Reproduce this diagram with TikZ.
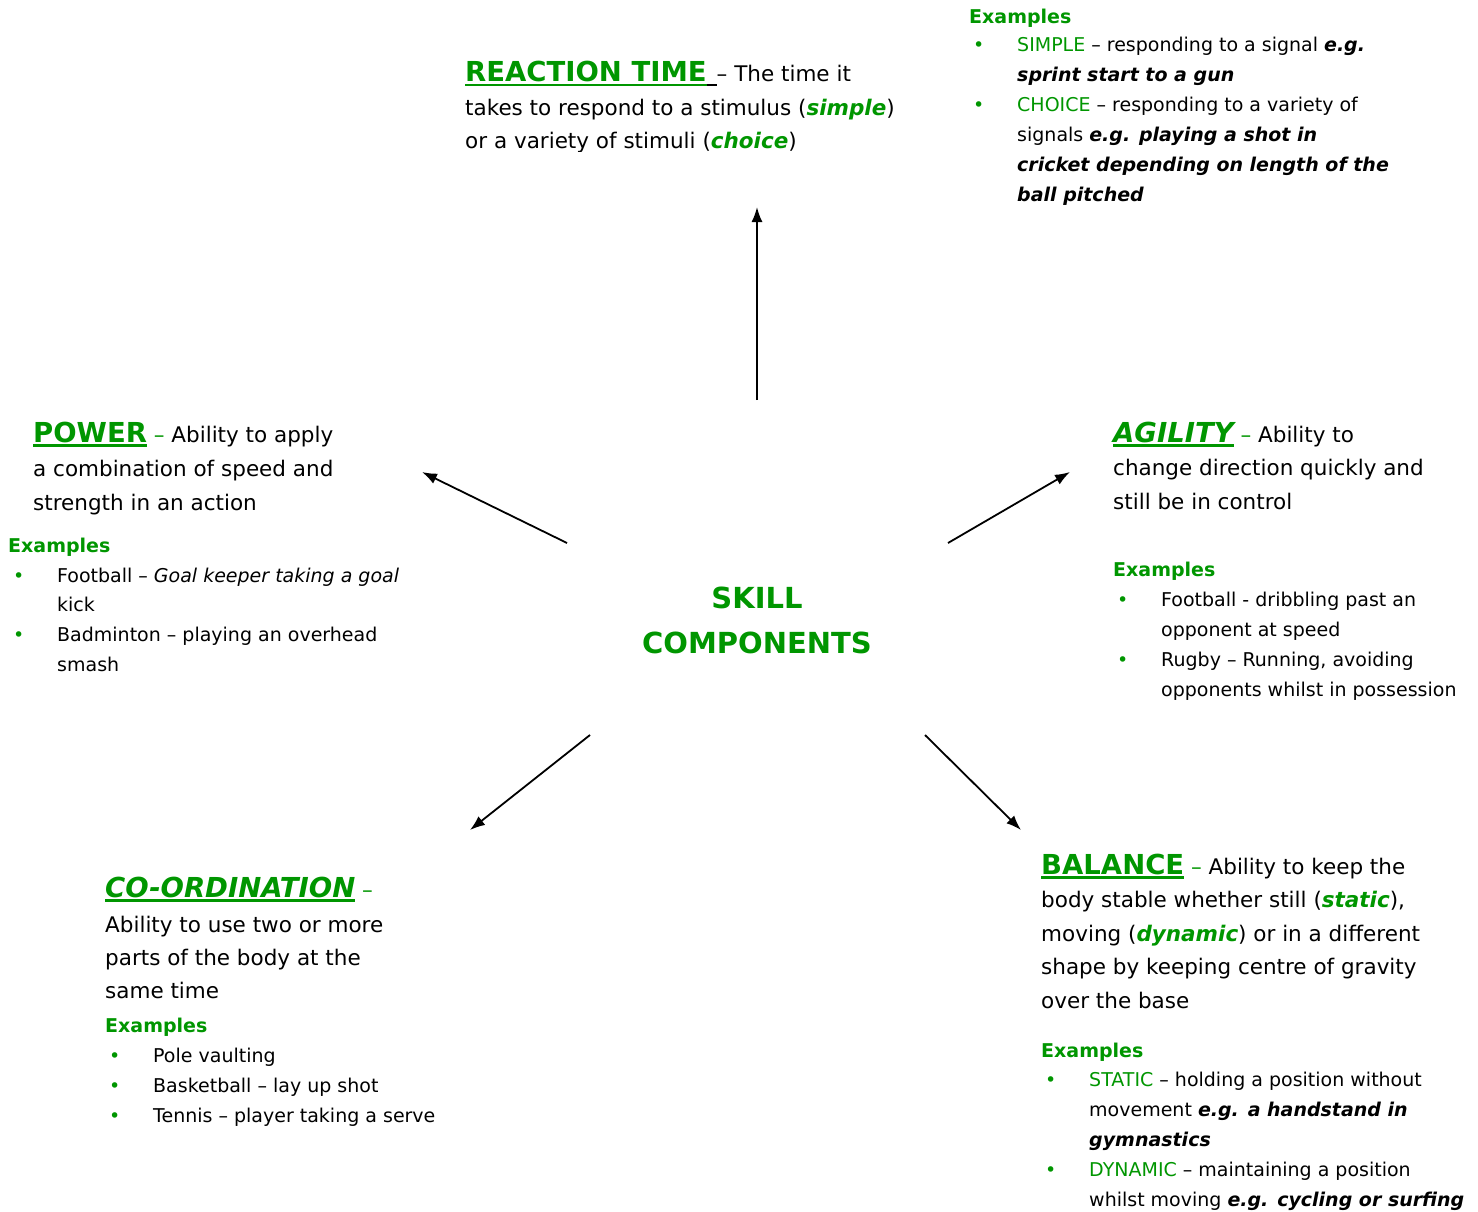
\documentclass[tikz,border=0pt]{standalone}
\usepackage{fontspec}
\setmainfont{DejaVu Sans}
\usetikzlibrary{arrows.meta}
\definecolor{sg}{RGB}{0,150,0}
\newcommand\bodyf{\fontsize{21.5}{25}\selectfont}
\newcommand\exf{\fontsize{19}{23}\selectfont}
\newcommand\hdf{\fontsize{27.5}{31}\selectfont\bfseries}
\newcommand\myul[1]{\setbox0\hbox{#1}\rlap{\rule[-4.5pt]{\wd0}{2.6pt}}\box0}
\newcommand\hd[1]{\textcolor{sg}{\hdf\myul{#1}}}
\newcommand\gi[1]{\textcolor{sg}{\bfseries\itshape #1}}
\newcommand\bi[1]{{\bfseries\itshape #1}}
\newcommand\gr[1]{\textcolor{sg}{#1}}
\newcommand\bul{\llap{\makebox[44pt][l]{\textcolor{sg}{\textbullet}}}}
\newcommand\block[6]{\foreach \t [count=\i] in {#6}{\node[#1] (#2\i) at (#3,{#4+(\i-1)*#5}) {\t};}}
\tikzset{
  ln/.style={anchor=base west, inner sep=0pt, font=\bodyf},
  ex/.style={anchor=base west, inner sep=0pt, font=\exf},
  exhd/.style={anchor=base west, inner sep=0pt, font=\exf\bfseries, text=sg},
  ctr/.style={anchor=base, inner sep=0pt, font=\fontsize{29}{33}\selectfont\bfseries, text=sg},
  arr/.style={line width=1.8pt, -{Latex[length=15pt,width=11pt]}}
}
\begin{document}
\begin{tikzpicture}[x=1pt,y=-1pt]
\useasboundingbox[fill=white] (0,0) rectangle (1478,1212);

% centre
\node[ctr] (sk1) at (757,608) {SKILL};
\node[ctr] (sk2) at (757,653) {COMPONENTS};

% reaction time
\begin{scope}
\clip (0,0) rectangle (1478,152);
\block{ln}{rt}{465}{82}{33.5}{
 {\hd{REACTION TIME}\myul{\hspace{10pt}} – The time it},
 {takes to respond to a stimulus (\gi{simple})},
 {or a variety of stimuli (\gi{choice})}}
\end{scope}

% reaction time examples
\node[exhd] (rtex) at (969,24) {Examples};
\block{ex}{rte}{1017}{52}{29.9}{
 {\bul\gr{SIMPLE} – responding to a signal \bi{e.g.}},
 {\bi{sprint start to a gun}},
 {\bul\gr{CHOICE} – responding to a variety of},
 {signals \bi{e.g. playing a shot in}},
 {\bi{cricket depending on length of the}},
 {\bi{ball pitched}}}

% power
\block{ln}{pw}{33}{442}{34}{
 {\hd{POWER} \gr{–} Ability to apply},
 {a combination of speed and},
 {strength in an action}}
\node[exhd] (pwex) at (8,552) {Examples};
\block{ex}{pwe}{57}{582}{29.7}{
 {\bul Football – \textit{Goal keeper taking a goal}},
 {kick},
 {\bul Badminton – playing an overhead},
 {smash}}

% agility
\block{ln}{ag}{1113}{442}{33.5}{
 {\hd{\itshape AGILITY} \gr{–} Ability to},
 {change direction quickly and},
 {still be in control}}
\node[exhd] (agex) at (1113,576) {Examples};
\block{ex}{age}{1161}{606}{30}{
 {\bul Football - dribbling past an},
 {opponent at speed},
 {\bul Rugby – Running, avoiding},
 {opponents whilst in possession}}

% co-ordination
\node[ln] (co0) at (105,897) {\hd{\itshape CO-ORDINATION} \gr{–}};
\block{ln}{co}{105}{932}{33}{
 {Ability to use two or more},
 {parts of the body at the},
 {same time}}
\node[exhd] (coex) at (105,1032) {Examples};
\block{ex}{coe}{153}{1062}{30}{
 {\bul Pole vaulting},
 {\bul Basketball – lay up shot},
 {\bul Tennis – player taking a serve}}

% balance
\block{ln}{ba}{1041}{874}{33.6}{
 {\hd{BALANCE} \gr{–} Ability to keep the},
 {body stable whether still (\gi{static}),},
 {moving (\gi{dynamic}) or in a different},
 {shape by keeping centre of gravity},
 {over the base}}
\node[exhd] (baex) at (1041,1057) {Examples};
\block{ex}{bae}{1089}{1086}{30}{
 {\bul\gr{STATIC} – holding a position without},
 {movement \bi{e.g. a handstand in}},
 {\bi{gymnastics}},
 {\bul\gr{DYNAMIC} – maintaining a position},
 {whilst moving \bi{e.g. cycling or surfing}}}

% arrows
\coordinate (aus) at (757,400);  \coordinate (aue) at (757,207);
\coordinate (als) at (567,543);  \coordinate (ale) at (422,472);
\coordinate (ars) at (948,543);  \coordinate (are) at (1070,472);
\coordinate (adls) at (590,735); \coordinate (adle) at (470,830);
\coordinate (adrs) at (925,735); \coordinate (adre) at (1021,830);
\draw[arr] (aus) -- (aue);
\draw[arr] (als) -- (ale);
\draw[arr] (ars) -- (are);
\draw[arr] (adls) -- (adle);
\draw[arr] (adrs) -- (adre);
\end{tikzpicture}
\end{document}
